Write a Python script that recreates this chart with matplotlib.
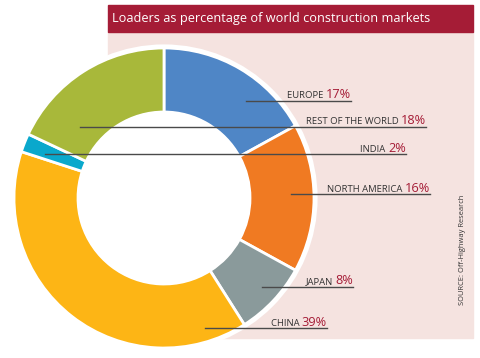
import matplotlib.pyplot as plt
from matplotlib.patches import Rectangle, Circle

# data (clockwise from 12 o'clock)
regions = ["EUROPE", "NORTH AMERICA", "JAPAN", "CHINA", "INDIA", "REST OF THE WORLD"]
shares = [17, 16, 8, 39, 2, 18]
colors = ["#4f86c6", "#f07a22", "#8a9a9b", "#fdb515", "#0aa8cc", "#a8b83a"]

# label layout: (y of leader line, x start, x end) in pixels from top
label_pos = {
    "EUROPE": (101, 246, 351),
    "REST OF THE WORLD": (127, 80, 426),
    "INDIA": (154, 45, 406),
    "NORTH AMERICA": (194, 291, 430),
    "JAPAN": (287, 262, 353),
    "CHINA": (328, 205, 327),
}

W, H = 480, 358
dark_red = "#a51c36"
plt.rcParams['font.family'] = ['Open Sans', 'DejaVu Sans']

fig = plt.figure(figsize=(4.8, 3.58), dpi=100)
ax = fig.add_axes([0, 0, 1, 1])

# background panel + title bar
ax.add_patch(Rectangle((108, H - 338), 365, 306, color="#f5e3e0", zorder=0))
ax.add_patch(Rectangle((108, H - 32), 365, 27, color=dark_red, zorder=1))
ax.text(112, H - 18.5, "Loaders as percentage of world construction markets",
        color="white", fontsize=9.2, va="center", ha="left", zorder=2)

# donut
cx, cy = 164, H - 198
ax.pie(shares, colors=colors, startangle=90, counterclock=False,
       center=(cx, cy), radius=150,
       wedgeprops=dict(width=64, edgecolor="white", linewidth=2))
ax.add_patch(Circle((cx, cy), 151.5, fill=False, edgecolor="white", lw=3, zorder=3))
ax.add_patch(Circle((cx, cy), 86, color="white", zorder=3))

for name, pct in zip(regions, shares):
    y, x0, x1 = label_pos[name]
    yy = H - y
    ax.plot([x0, x1], [yy, yy], color="#4a4a4a", lw=1.0, zorder=5)
    t = ax.text(x1, yy + 2.5, f"{pct}%", color=dark_red, fontsize=9.2,
                ha="right", va="baseline", zorder=6)
    ax.annotate(name + " ", xy=(0, yy + 2.5), xycoords=(t, "data"),
                color="#333333", fontsize=6.8, ha="right", va="baseline", zorder=6)

ax.text(463, H - 250, "SOURCE: Off-Highway Research", rotation=90,
        fontsize=5.4, color="#333333", ha="center", va="center")

ax.set_xlim(0, W)
ax.set_ylim(0, H)
ax.set_aspect("auto")
ax.axis("off")
fig.savefig("out.png", dpi=100, facecolor="white")
